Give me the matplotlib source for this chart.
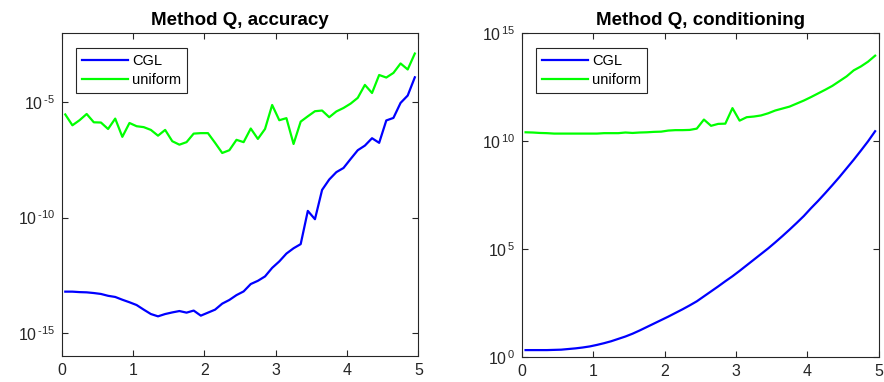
import numpy as np
import matplotlib
matplotlib.use("Agg")
import matplotlib.pyplot as plt
from matplotlib.ticker import FixedLocator, NullLocator, FuncFormatter

plt.rcParams["font.family"] = ["Liberation Sans", "DejaVu Sans"]
plt.rcParams["mathtext.fontset"] = "custom"
plt.rcParams["mathtext.rm"] = "Liberation Sans"
plt.rcParams["mathtext.it"] = "Liberation Sans"

# -----------------------------
# Dados (log10 dos valores)
# -----------------------------
x = np.arange(50) * 0.1 + 0.05

acc_cgl = [
    -13.21, -13.21, -13.23, -13.24, -13.27, -13.31, -13.39, -13.44, -13.56, -13.67,
    -13.79, -13.99, -14.18, -14.28, -14.18, -14.11, -14.05, -14.12, -14.03, -14.25,
    -14.12, -13.99, -13.73, -13.57, -13.36, -13.20, -12.88, -12.74, -12.55, -12.18,
    -11.90, -11.56, -11.33, -11.15, -9.71, -10.07, -8.80, -8.35, -8.03, -7.85,
    -7.46, -7.08, -6.88, -6.56, -6.76, -5.79, -5.68, -5.03, -4.71, -3.92,
]
acc_uniform = [
    -5.53, -6.00, -5.78, -5.51, -5.87, -5.88, -6.16, -5.71, -6.50, -5.90,
    -6.04, -6.08, -6.20, -6.45, -6.20, -6.69, -6.84, -6.73, -6.36, -6.34,
    -6.34, -6.76, -7.20, -7.08, -6.63, -6.73, -6.14, -6.59, -6.16, -5.12,
    -5.78, -5.69, -6.81, -5.84, -5.61, -5.39, -5.36, -5.65, -5.40, -5.25,
    -5.06, -4.81, -4.25, -4.60, -3.82, -3.93, -3.73, -3.32, -3.58, -2.89,
]

cond_cgl = [
    0.31, 0.31, 0.31, 0.31, 0.32, 0.33, 0.36, 0.39, 0.43, 0.48,
    0.55, 0.63, 0.72, 0.83, 0.94, 1.07, 1.22, 1.38, 1.54, 1.70,
    1.86, 2.03, 2.20, 2.38, 2.57, 2.80, 3.03, 3.26, 3.50, 3.73,
    3.98, 4.24, 4.50, 4.76, 5.02, 5.30, 5.59, 5.89, 6.20, 6.52,
    6.88, 7.22, 7.58, 7.95, 8.33, 8.73, 9.13, 9.55, 9.98, 10.45,
]
cond_uniform = [
    10.40, 10.39, 10.37, 10.36, 10.34, 10.34, 10.34, 10.34, 10.34, 10.34,
    10.34, 10.36, 10.36, 10.36, 10.39, 10.37, 10.39, 10.40, 10.42, 10.43,
    10.48, 10.50, 10.50, 10.51, 10.57, 10.99, 10.70, 10.79, 10.80, 11.52,
    10.94, 11.10, 11.13, 11.18, 11.28, 11.41, 11.50, 11.59, 11.73, 11.87,
    12.03, 12.20, 12.37, 12.55, 12.77, 12.99, 13.27, 13.45, 13.67, 13.95,
]

series_labels = ["CGL", "uniform"]
titles = ["Method Q, accuracy", "Method Q, conditioning"]


def pow10_label(v, pos):
    e = int(round(np.log10(v)))
    sign = r"\text{-}" if e < 0 else ""
    return r"$\mathregular{10^{\,%s%d}}$" % (sign, abs(e))


def style_axis(ax, ylim, yticks):
    ax.set_yscale("log")
    ax.set_xlim(0, 5)
    ax.set_ylim(*ylim)
    ax.xaxis.set_major_locator(FixedLocator([0, 1, 2, 3, 4, 5]))
    ax.yaxis.set_major_locator(FixedLocator(yticks))
    ax.yaxis.set_minor_locator(NullLocator())
    ax.yaxis.set_major_formatter(FuncFormatter(pow10_label))
    ax.tick_params(direction="in", top=True, right=True, length=4,
                   width=0.8, colors="0.15", labelsize=11.5, pad=5)
    for s in ax.spines.values():
        s.set_color("0.15")
        s.set_linewidth(0.8)


fig = plt.figure(figsize=(8.84, 3.82), dpi=100)
ax1 = fig.add_axes([0.0698, 0.068, 0.4035, 0.8456])
ax2 = fig.add_axes([0.5905, 0.066, 0.4035, 0.8476])

ax1.plot(x, 10.0 ** np.array(acc_cgl), color=(0, 0, 1), lw=1.6, label=series_labels[0])
ax1.plot(x, 10.0 ** np.array(acc_uniform), color=(0, 1, 0), lw=1.6, label=series_labels[1])
style_axis(ax1, (1e-16, 1e-2), [1e-15, 1e-10, 1e-5])

ax2.plot(x, 10.0 ** np.array(cond_cgl), color=(0, 0, 1), lw=1.6, label=series_labels[0])
ax2.plot(x, 10.0 ** np.array(cond_uniform), color=(0, 1, 0), lw=1.6, label=series_labels[1])
style_axis(ax2, (1e0, 1e15), [1e0, 1e5, 1e10, 1e15])

for ax, t in zip([ax1, ax2], titles):
    ax.set_title(t, fontsize=13.5, fontweight="bold", pad=6)
    leg = ax.legend(loc="upper left", bbox_to_anchor=(0.04, 0.954), fontsize=10.5,
                    fancybox=False, edgecolor="0.15", framealpha=1,
                    handlelength=3.15, handletextpad=0.3, borderpad=0.4,
                    labelspacing=0.37, borderaxespad=0)
    leg.get_frame().set_linewidth(0.8)

fig.savefig("out.png", dpi=100)
